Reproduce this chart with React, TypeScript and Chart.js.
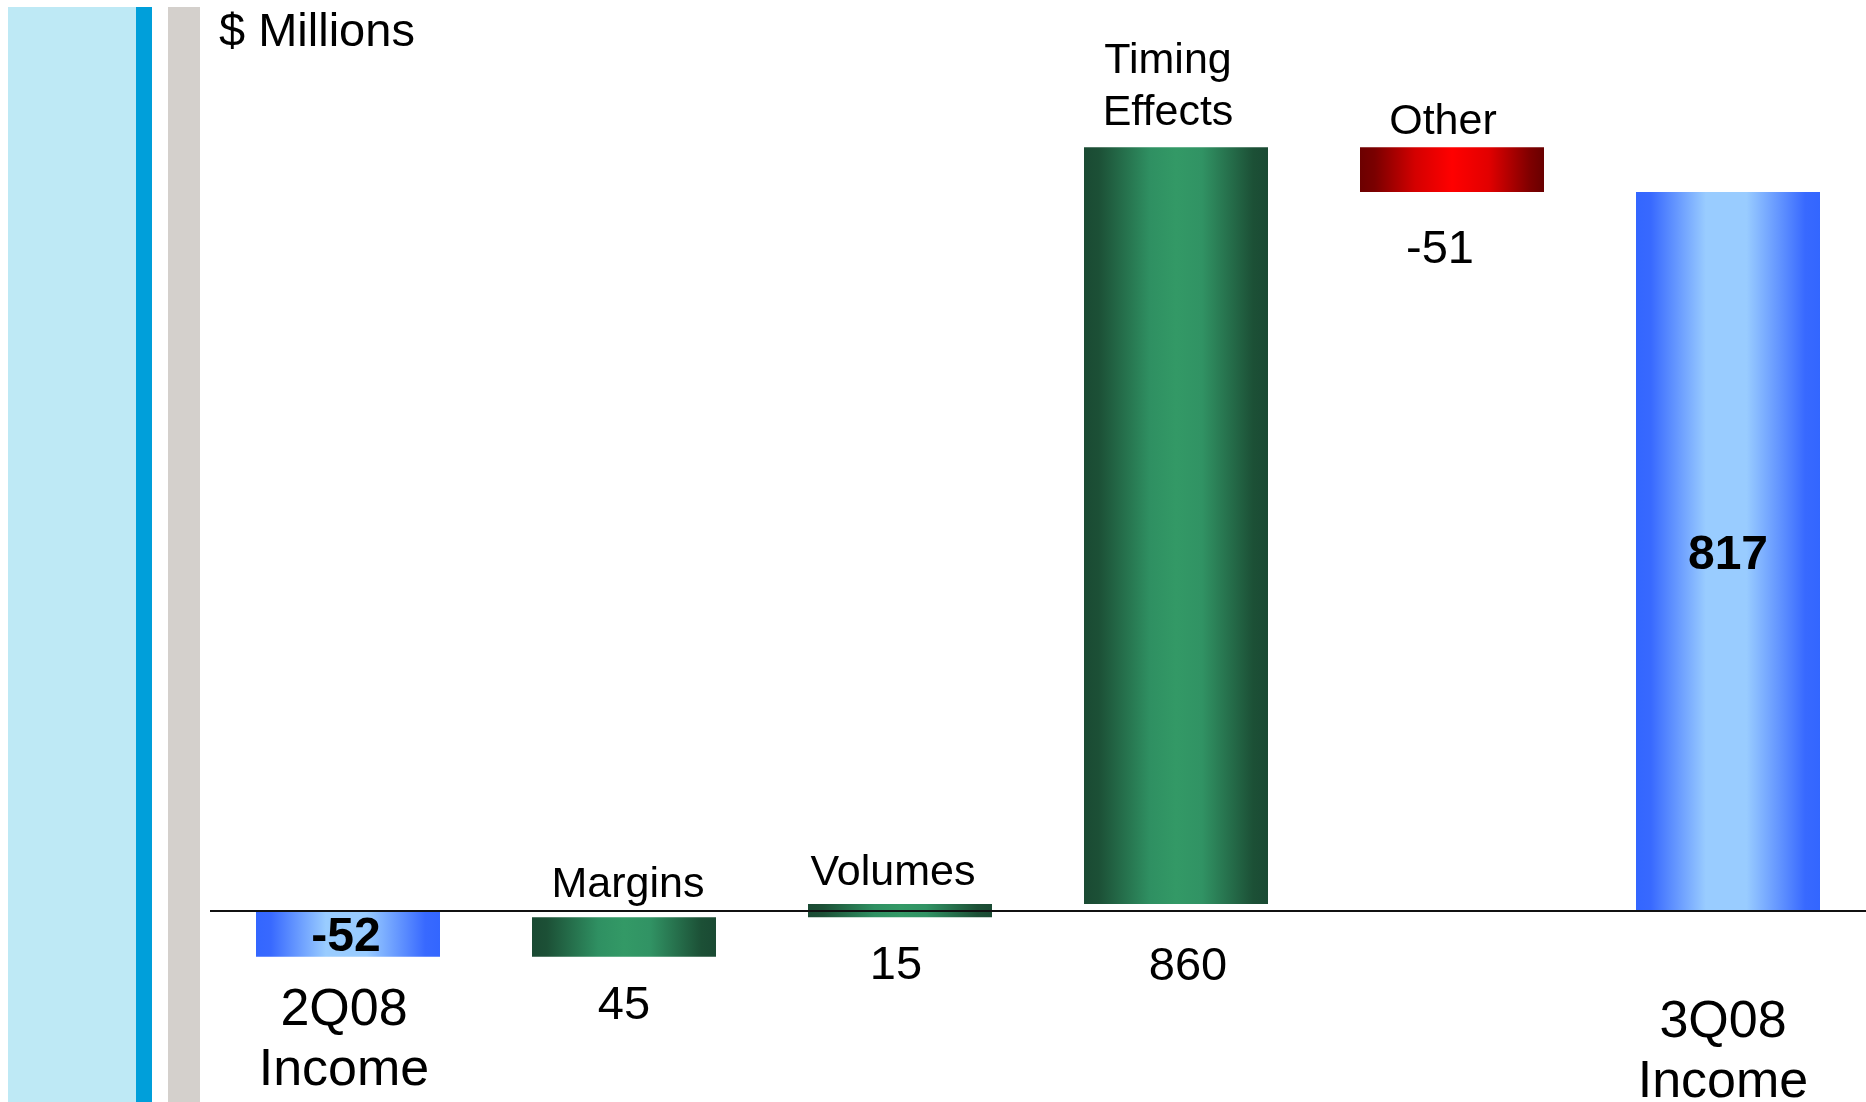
import React, { useEffect, useRef } from "react";
import { Chart, registerables } from "chart.js";

Chart.register(...registerables);

// Walk from 2Q08 income to 3Q08 income, $ millions
const categories = ["2Q08 Income", "Margins", "Volumes", "Timing Effects", "Other", "3Q08 Income"];
const nameLines = [["2Q08", "Income"], ["Margins"], ["Volumes"], ["Timing", "Effects"], ["Other"], ["3Q08", "Income"]];
const changes = [-52, 45, 15, 860, -51, 817];
const isTotal = [true, false, false, false, false, true];
const valueLabels = ["-52", "45", "15", "860", "-51", "817"];

const yMin = -100;
const yMax = 1000;
const barPct = 184 / 276;

const FONT = "'Liberation Sans', Arial, Helvetica, sans-serif";

// floating [start, end] segments for the waterfall
function buildSegments(): [number, number][] {
  const out: [number, number][] = [];
  let running = 0;
  changes.forEach((v, i) => {
    if (isTotal[i]) {
      out.push([0, v]);
      running = v;
    } else {
      out.push([running, running + v]);
      running += v;
    }
  });
  return out;
}

type Stop = [number, string];
const greenStops: Stop[] = [
  [0, "#1a4a33"], [0.08, "#1c5036"], [0.36, "#2f9062"], [0.5, "#339966"],
  [0.64, "#319364"], [0.92, "#1c5036"], [1, "#1a4a33"],
];
const blueStops: Stop[] = [
  [0, "#3366ff"], [0.08, "#3869ff"], [0.38, "#99ccff"], [0.6, "#99ccff"],
  [0.92, "#3869ff"], [1, "#3366ff"],
];
const redStops: Stop[] = [
  [0, "#6c0000"], [0.08, "#7a0000"], [0.3, "#d40000"], [0.5, "#ff0000"],
  [0.7, "#e20000"], [0.92, "#800000"], [1, "#680000"],
];

function stopsFor(i: number): Stop[] {
  if (isTotal[i]) return blueStops;
  return changes[i] >= 0 ? greenStops : redStops;
}

// text placement: [dx, dy] per category
// names: totals sit below the zero line, steps sit above the bar top
const nameShift: [number, number][] = [[-4, 114], [4, -20], [-7, -19], [-8, -22], [-9, -13], [-5, 126]];
// values: steps are drawn below the lower end of their bar
const valueShift: [number, number][] = [[-2, 0], [0, 62], [-4, 62], [12, 76], [-12, 71], [0, 0]];

const labelPlugin = {
  id: "waterfallLabels",
  afterDatasetsDraw(chart: any) {
    const { ctx, chartArea, scales } = chart;
    const y0 = scales.y.getPixelForValue(0);
    const meta = chart.getDatasetMeta(0);

    ctx.save();
    // zero line
    ctx.strokeStyle = "#111111";
    ctx.lineWidth = 2;
    ctx.beginPath();
    ctx.moveTo(chartArea.left, y0);
    ctx.lineTo(chartArea.right, y0);
    ctx.stroke();

    ctx.fillStyle = "#000000";
    ctx.textBaseline = "alphabetic";

    // title
    ctx.textAlign = "left";
    ctx.font = `47px ${FONT}`;
    ctx.fillText("$ Millions", 219, 46);
    ctx.textAlign = "center";

    meta.data.forEach((bar: any, i: number) => {
      const top = Math.min(bar.y, bar.base);
      const bottom = Math.max(bar.y, bar.base);
      const lines = nameLines[i];
      if (isTotal[i]) {
        ctx.font = `bold 48px ${FONT}`;
        ctx.fillText(valueLabels[i], bar.x + valueShift[i][0], (top + bottom) / 2 + 17);
        ctx.font = `52px ${FONT}`;
        lines.forEach((ln, k) => {
          ctx.fillText(ln, bar.x + nameShift[i][0], y0 + nameShift[i][1] + k * 60);
        });
      } else {
        ctx.font = `43px ${FONT}`;
        const n = lines.length;
        lines.forEach((ln, k) => {
          ctx.fillText(ln, bar.x + nameShift[i][0], top + nameShift[i][1] - (n - 1 - k) * 52);
        });
        ctx.font = `47px ${FONT}`;
        ctx.fillText(valueLabels[i], bar.x + valueShift[i][0], bottom + valueShift[i][1]);
      }
    });
    ctx.restore();
  },
};

export default function App() {
  const canvasRef = useRef<HTMLCanvasElement | null>(null);

  useEffect(() => {
    if (!canvasRef.current) return;
    const segments = buildSegments();
    const chart = new Chart(canvasRef.current, {
      type: "bar",
      data: {
        labels: categories,
        datasets: [
          {
            data: segments as any,
            borderWidth: 0,
            categoryPercentage: 1,
            barPercentage: barPct,
            backgroundColor: (c: any) => {
              const ch = c.chart;
              const area = ch.chartArea;
              const stops = stopsFor(c.dataIndex);
              if (!area || !ch.scales.x) return stops[0][1];
              const x = ch.scales.x.getPixelForValue(c.dataIndex);
              const half = ((area.width / categories.length) * barPct) / 2;
              const g = ch.ctx.createLinearGradient(x - half, 0, x + half, 0);
              stops.forEach(([o, col]) => g.addColorStop(o, col));
              return g;
            },
          },
        ],
      },
      options: {
        animation: false,
        responsive: false,
        devicePixelRatio: 1,
        layout: { padding: { left: 210, right: 0, top: 31, bottom: 103 } },
        plugins: {
          legend: { display: false },
          tooltip: { enabled: false },
          title: { display: false },
        },
        scales: {
          x: { display: false, offset: true },
          y: { display: false, min: yMin, max: yMax },
        },
      },
      plugins: [labelPlugin],
    });
    return () => chart.destroy();
  }, []);

  const strip = (left: number, width: number, color: string): React.CSSProperties => ({
    position: "absolute",
    left,
    top: 7,
    width,
    height: 1095,
    background: color,
  });

  return (
    <div style={{ position: "absolute", left: 0, top: 0, width: 1866, height: 1102, background: "#ffffff", overflow: "hidden" }}>
      <div style={strip(8, 128, "#bee9f5")} />
      <div style={strip(136, 16, "#009fda")} />
      <div style={strip(168, 32, "#d4d0cc")} />
      <canvas ref={canvasRef} width={1866} height={1102} style={{ position: "absolute", left: 0, top: 0 }} />
    </div>
  );
}
